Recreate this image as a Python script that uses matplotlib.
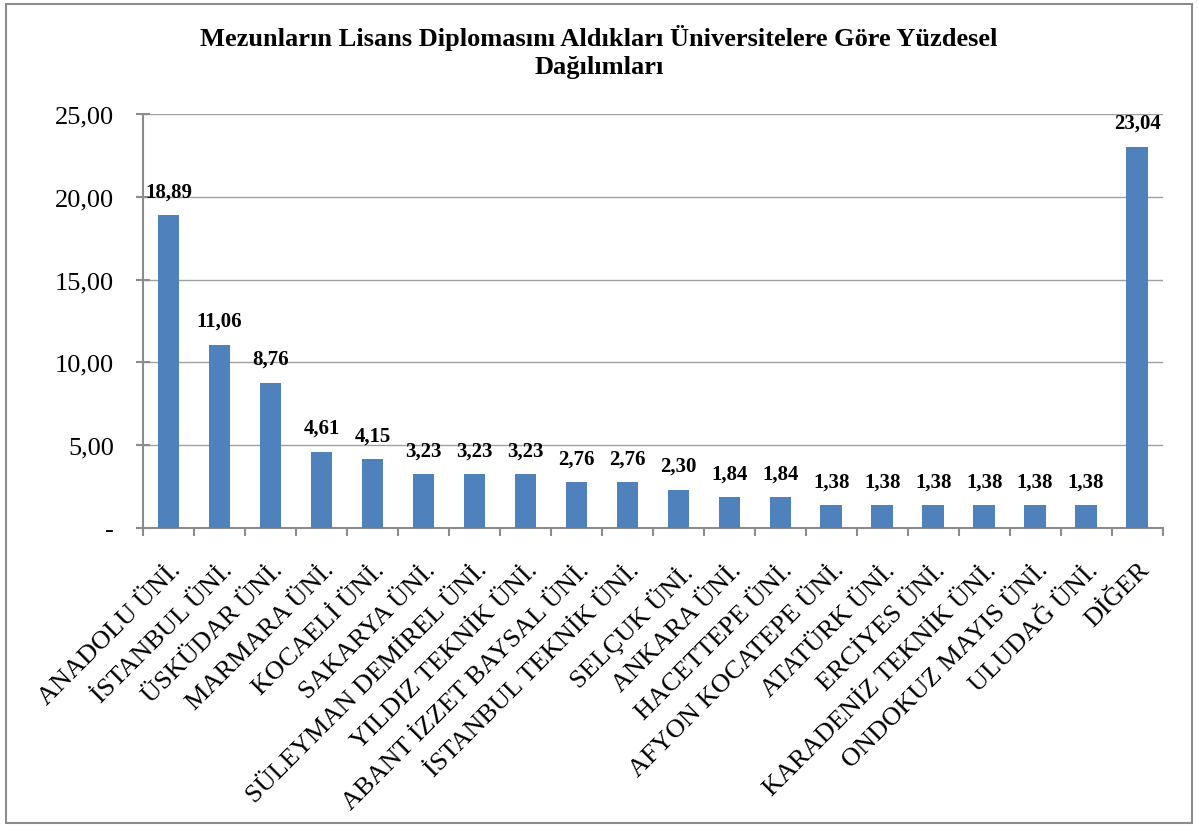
import numpy as np
import matplotlib.pyplot as plt
from matplotlib.patches import Rectangle
from matplotlib.transforms import ScaledTranslation

plt.rcParams['font.family'] = ['Liberation Serif', 'DejaVu Serif']

# Üniversiteler ve yüzdeler
universiteler = ['ANADOLU ÜNİ.', 'İSTANBUL ÜNİ.', 'ÜSKÜDAR ÜNİ.', 'MARMARA ÜNİ.',
                 'KOCAELİ ÜNİ.', 'SAKARYA ÜNİ.', 'SÜLEYMAN DEMİREL ÜNİ.',
                 'YILDIZ TEKNİK ÜNİ.', 'ABANT İZZET BAYSAL ÜNİ.',
                 'İSTANBUL TEKNİK ÜNİ.', 'SELÇUK ÜNİ.', 'ANKARA ÜNİ.',
                 'HACETTEPE ÜNİ.', 'AFYON KOCATEPE ÜNİ.', 'ATATÜRK ÜNİ.',
                 'ERCİYES ÜNİ.', 'KARADENİZ TEKNİK ÜNİ.', 'ONDOKUZ MAYIS ÜNİ.',
                 'ULUDAĞ ÜNİ.', 'DİĞER']
yuzdeler = [18.89, 11.06, 8.76, 4.61, 4.15, 3.23, 3.23, 3.23, 2.76, 2.76,
            2.30, 1.84, 1.84, 1.38, 1.38, 1.38, 1.38, 1.38, 1.38, 23.04]
y_ticks = [0, 5, 10, 15, 20, 25]

fig = plt.figure(figsize=(11.98, 8.29), dpi=100)
fig.patches.append(Rectangle((0.005, 0.006), 0.99, 0.988, transform=fig.transFigure,
                             fill=False, edgecolor='#8c8c8c', linewidth=1.5))
ax = fig.add_axes([0.1194, 0.362, 0.851, 0.499])

x = np.arange(len(universiteler))
bars = ax.bar(x, yuzdeler, width=0.42, color='#4f81bd', zorder=3)

for b, v in zip(bars, yuzdeler):
    ax.annotate(f'{v:.2f}'.replace('.', ','), (b.get_x() + b.get_width() / 2, v),
                xytext=(0, 10), textcoords='offset points', ha='center', va='bottom',
                fontsize=15, fontweight='bold', zorder=4)

ax.set_xlim(-0.5, len(universiteler) - 0.5)
ax.set_ylim(0, 25)
ax.set_yticks(y_ticks)
ax.set_yticklabels(['-'] + [f'{t:.2f}'.replace('.', ',') for t in y_ticks[1:]], fontsize=19)
ax.yaxis.grid(True, color='#a0a0a0', linewidth=1.0, zorder=0)
ax.set_axisbelow(True)
ax.set_xticks(np.arange(len(universiteler) + 1) - 0.5)
ax.set_xticklabels([])

# kategori etiketleri (45 derece)
for xi, ad in zip(x, universiteler):
    ax.annotate(ad, (xi, 0), xycoords=('data', 'axes fraction'),
                xytext=(1, -22), textcoords='offset points',
                rotation=45, ha='right', va='top', rotation_mode='anchor',
                fontsize=19, annotation_clip=False)

ax.tick_params(axis='x', which='major', length=6, width=1.5, color='#8c8c8c')
ax.tick_params(axis='y', direction='inout', length=9.5, width=1.5, color='#8c8c8c', pad=16)

for s in ['top', 'right']:
    ax.spines[s].set_visible(False)
for s in ['left', 'bottom']:
    ax.spines[s].set_color('#8c8c8c')
    ax.spines[s].set_linewidth(1.5)

fig.text(0.5, 0.97, 'Mezunların Lisans Diplomasını Aldıkları Üniversitelere Göre Yüzdesel\nDağılımları',
         ha='center', va='top', fontsize=19, fontweight='bold', linespacing=1.3)

plt.savefig('out.png', dpi=100)
